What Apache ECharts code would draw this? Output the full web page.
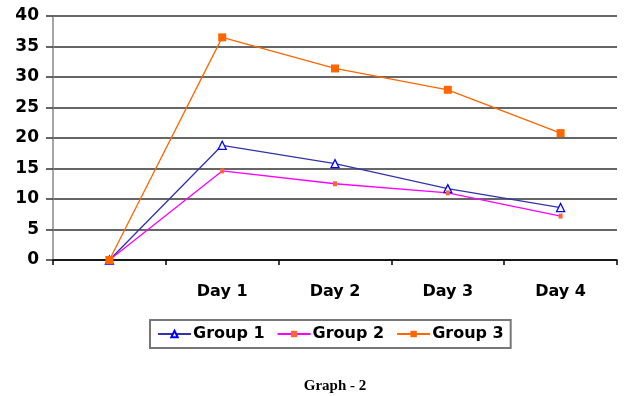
<!DOCTYPE html>
<html><head><meta charset="utf-8">
<script src="https://cdn.jsdelivr.net/npm/echarts@6/dist/echarts.min.js"></script>
<style>html,body{margin:0;padding:0;background:#fff}#c{width:625px;height:396px}</style>
</head><body><div id="c"></div>
<script>
var categories = ['', 'Day 1', 'Day 2', 'Day 3', 'Day 4'];
var group1 = [0, 18.8, 15.8, 11.7, 8.6];
var group2 = [0, 14.6, 12.5, 11.0, 7.2];
var group3 = [0, 36.5, 31.4, 27.9, 20.8];
var yTicks = [0, 40, 5];

var chart = echarts.init(document.getElementById('c'));
var bold = {fontFamily: 'DejaVu Sans', fontWeight: 'bold', color: '#000'};
chart.setOption({
  animation: false,
  backgroundColor: '#fff',
  title: {
    text: 'Graph - 2', left: 330, top: 374, textAlign: 'center',
    textStyle: {fontFamily: 'Liberation Serif', fontWeight: 'bold', fontSize: 15, color: '#000'}
  },
  grid: {left: 53, right: 8, top: 16, bottom: 136},
  legend: {
    left: 150, top: 320,
    padding: [6, 7, 6, 7],
    itemGap: 12, itemWidth: 33, itemHeight: 8,
    borderColor: '#777', borderWidth: 2,
    textStyle: Object.assign({fontSize: 16, padding: [0, 0, 0, -3]}, bold),
    data: ['Group 1', 'Group 2', 'Group 3']
  },
  xAxis: {
    type: 'category', data: categories, boundaryGap: true,
    axisLine: {lineStyle: {color: '#000', width: 1.5}},
    axisTick: {show: true, length: 5, lineStyle: {color: '#000', width: 1.5}},
    axisLabel: Object.assign({fontSize: 16, margin: 24}, bold),
    splitLine: {show: false}
  },
  yAxis: {
    type: 'value', min: yTicks[0], max: yTicks[1], interval: yTicks[2],
    axisLine: {show: true, lineStyle: {color: '#888', width: 1.5}},
    axisTick: {show: true, length: 7, lineStyle: {color: '#333', width: 1.5}},
    axisLabel: Object.assign({fontSize: 17, margin: 14}, bold),
    splitLine: {lineStyle: {color: '#333', width: 1.5}}
  },
  series: [
    {
      name: 'Group 1', type: 'line', data: group1,
      symbol: 'triangle', symbolSize: 8, showAllSymbol: true,
      lineStyle: {color: '#3333aa', width: 1.3},
      itemStyle: {color: '#fff', borderColor: '#0000ff', borderWidth: 1.3}
    },
    {
      name: 'Group 2', type: 'line', data: group2,
      symbol: 'rect', symbolSize: [4, 5], showAllSymbol: true,
      lineStyle: {color: '#ff00ff', width: 1.3},
      itemStyle: {color: '#ff6633', borderWidth: 0}
    },
    {
      name: 'Group 3', type: 'line', data: group3,
      symbol: 'rect', symbolSize: 8, showAllSymbol: true,
      lineStyle: {color: '#ff6600', width: 1.3},
      itemStyle: {color: '#ff6600', borderWidth: 0}
    }
  ]
});
</script></body></html>
